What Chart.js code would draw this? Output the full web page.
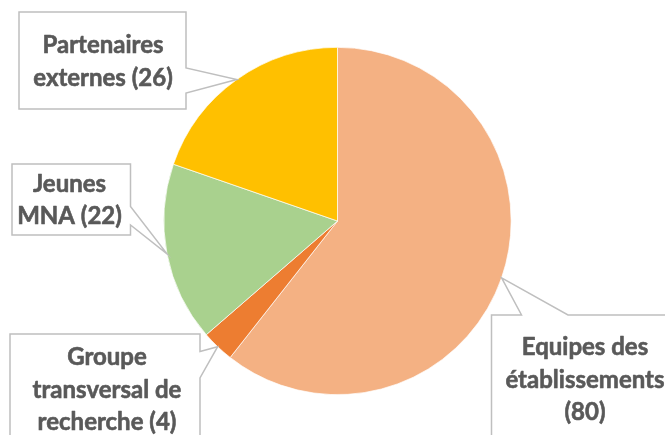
<!DOCTYPE html>
<html>
<head>
<meta charset="utf-8">
<script src="https://cdn.jsdelivr.net/npm/chart.js@4/dist/chart.umd.min.js"></script>
<style>
html,body{margin:0;padding:0;background:#fff;}
#wrap{position:relative;width:665px;height:435px;}
</style>
</head>
<body>
<div id="wrap"><canvas id="c" width="665" height="435"></canvas></div>
<script>
const categories = ['Equipes des établissements', 'Groupe transversal de recherche', 'Jeunes MNA', 'Partenaires externes'];
const values = [80, 4, 22, 26];
const colors = ['#F4B183', '#ED7D31', '#A9D18E', '#FFC000'];
// label line layout ({v} replaced by the value)
const labelLines = [
  ['Equipes des', 'établissements', '({v})'],
  ['Groupe', 'transversal de', 'recherche ({v})'],
  ['Jeunes', 'MNA ({v})'],
  ['Partenaires', 'externes ({v})']
];

// callout boxes: rect + pointer attachment (layout only)
const callouts = [
  {x1: 491.5, y1: 315, x2: 700, y2: 500, side: 'top', a: 521.5, b: 568, cx: 585, base: 355},
  {x1: 10, y1: 334, x2: 200, y2: 500, side: 'right', a: 351.5, b: 378, cx: 107, base: 365},
  {x1: 12, y1: 164, x2: 130.5, y2: 235, side: 'right', a: 206.5, b: 225, cx: 69.5, base: 191.5},
  {x1: 19, y1: 12, x2: 186, y2: 109, side: 'right', a: 68, b: 93, cx: 103, base: 53}
];

const calloutPlugin = {
  id: 'callouts',
  afterDatasetsDraw(chart) {
    const ctx = chart.ctx;
    const meta = chart.getDatasetMeta(0);
    meta.data.forEach((arc, i) => {
      const mid = (arc.startAngle + arc.endAngle) / 2;
      const tx = arc.x + Math.cos(mid) * arc.outerRadius;
      const ty = arc.y + Math.sin(mid) * arc.outerRadius;
      const c = callouts[i];
      ctx.save();
      ctx.beginPath();
      if (c.side === 'right') {
        ctx.moveTo(c.x1, c.y1);
        ctx.lineTo(c.x2, c.y1);
        ctx.lineTo(c.x2, c.a);
        ctx.lineTo(tx, ty);
        ctx.lineTo(c.x2, c.b);
        ctx.lineTo(c.x2, c.y2);
        ctx.lineTo(c.x1, c.y2);
        ctx.closePath();
      } else {
        ctx.moveTo(c.x1, c.y1);
        ctx.lineTo(c.a, c.y1);
        ctx.lineTo(tx, ty);
        ctx.lineTo(c.b, c.y1);
        ctx.lineTo(c.x2, c.y1);
        ctx.lineTo(c.x2, c.y2);
        ctx.lineTo(c.x1, c.y2);
        ctx.closePath();
      }
      ctx.fillStyle = '#ffffff';
      ctx.fill();
      ctx.lineWidth = 1.5;
      ctx.strokeStyle = '#BFBFBF';
      ctx.stroke();
      ctx.fillStyle = '#595959';
      ctx.strokeStyle = '#595959';
      ctx.lineWidth = 0.6;
      ctx.lineJoin = 'round';
      ctx.font = 'bold 24px Lato';
      ctx.textAlign = 'center';
      ctx.textBaseline = 'alphabetic';
      labelLines[i].forEach((ln, k) => {
        const t = ln.replace('{v}', values[i]);
        ctx.fillText(t, c.cx, c.base + k * 32.5);
        ctx.strokeText(t, c.cx, c.base + k * 32.5);
      });
      ctx.restore();
    });
  }
};

new Chart(document.getElementById('c'), {
  type: 'pie',
  data: {
    labels: categories,
    datasets: [{
      data: values,
      backgroundColor: colors,
      borderColor: '#ffffff',
      borderWidth: 0.7
    }]
  },
  options: {
    responsive: false,
    animation: false,
    layout: {padding: {top: 47, bottom: 40, left: 10, right: 0}},
    plugins: {legend: {display: false}, tooltip: {enabled: false}}
  },
  plugins: [calloutPlugin]
});
</script>
</body>
</html>
